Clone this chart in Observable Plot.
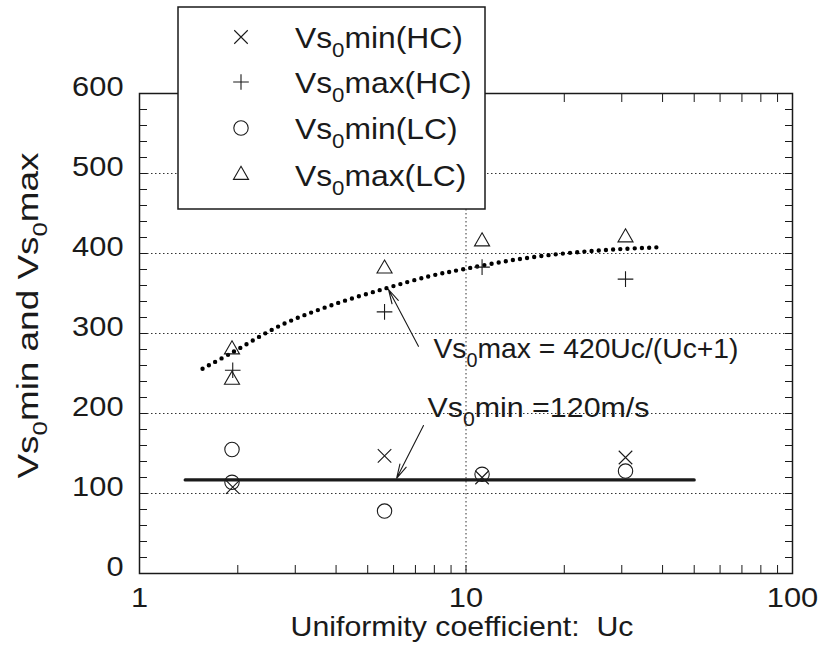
<!DOCTYPE html>
<html>
<head>
<meta charset="utf-8">
<script src="https://cdn.jsdelivr.net/npm/d3@7"></script>
<script src="https://cdn.jsdelivr.net/npm/@observablehq/plot@0.6"></script>
<style>
  html, body { margin: 0; padding: 0; background: #fff; }
  #wrap { position: relative; width: 822px; height: 659px; font-family: "Liberation Sans", Arial, Helvetica, sans-serif; }
  #legend { position: absolute; left: 177px; top: 6px; }
</style>
</head>
<body>
<div id="wrap"></div>
<script>
// ---- data ----
const seriesNames = ["Vs_0min(HC)", "Vs_0max(HC)", "Vs_0min(LC)", "Vs_0max(LC)"];
const seriesSymbols = ["times", "plus", "circle", "triangle2"];

const ucHC = [1.93, 5.63, 11.2, 30.8];
const vsMinHC = [108, 147, 120, 145];
const vsMaxHC = [254, 327, 383, 368];

const ucLC = [1.92, 1.92, 5.63, 11.2, 30.8];
const vsMinLC = [155, 114, 78, 124, 128];
const vsMaxLC = [280, 242, 381, 415, 420];

// fitted curve Vs0max = 420Uc/(Uc+1)
const curveUc = [1.56, 1.9, 2.7, 3.85, 5.63, 7.8, 10, 14, 19.9, 28.3, 40];
const curveVs = [256, 275, 310, 335, 356, 372, 381, 392, 400, 405, 408];

// Vs0min line
const minLineUc = [1.38, 50];
const minLineVs = 117;

// annotations
const annoLabels = ["Vs_0max = 420Uc/(Uc+1)", "Vs_0min =120m/s"];
const annoUc = [7.95, 7.62];
const annoVs = [280, 207];
const arrowFromUc = [7.15, 7.41];
const arrowFromVs = [284, 185];
const arrowToUc = [5.79, 6.13];
const arrowToVs = [355, 119];

// axes
const yTickLabels = [0, 100, 200, 300, 400, 500, 600];
const yGrid = [100, 200, 300, 400, 500];
const yMinor = d3.range(0, 601, 20);
const xTickLabels = [1, 10, 100];
const xGrid = [10];
const xMinor = [2, 3, 4, 5, 6, 7, 8, 9, 10, 20, 30, 40, 50, 60, 70, 80, 90];
const xTitle = "Uniformity coefficient:\u00a0 Uc";
const yTitle = "Vs_0min and Vs_0max";

// ---- tables ----
const hc = ucHC.map((u, i) => ({uc: u, min: vsMinHC[i], max: vsMaxHC[i]}));
const lc = ucLC.map((u, i) => ({uc: u, min: vsMinLC[i], max: vsMaxLC[i]}));
const curve = curveUc.map((u, i) => ({uc: u, vs: curveVs[i]}));
const minLine = minLineUc.map(u => ({uc: u, vs: minLineVs}));
const annos = annoLabels.map((t, i) => ({text: t, uc: annoUc[i], vs: annoVs[i]}));
const arrows = arrowFromUc.map((u, i) => ({x1: u, y1: arrowFromVs[i], x2: arrowToUc[i], y2: arrowToVs[i]}));

const ink = "#1a1a1a";
const FONT = "Liberation Sans, Arial, Helvetica, sans-serif";

const chart = Plot.plot({
  width: 822,
  height: 659,
  marginLeft: 139,
  marginRight: 30,
  marginTop: 93,
  marginBottom: 86,
  style: {fontFamily: FONT, background: "#fff", color: ink, overflow: "visible"},
  x: {type: "log", domain: [1, 100]},
  y: {domain: [0, 600]},
  marks: [
    Plot.ruleY(yGrid, {y: d => d, stroke: "#333", strokeWidth: 1, strokeDasharray: "1.5,2.5"}),
    Plot.ruleX(xGrid, {x: d => d, stroke: "#333", strokeWidth: 1, strokeDasharray: "1.5,2.5"}),
    Plot.axisY(yMinor, {anchor: "left", tickSize: -8, tickFormat: () => "", label: null, stroke: ink}),
    Plot.axisY(yMinor, {anchor: "right", tickSize: -8, tickFormat: () => "", label: null, stroke: ink}),
    Plot.axisX(xMinor, {anchor: "bottom", tickSize: -8, tickFormat: () => "", label: null, stroke: ink}),
    Plot.axisX(xMinor, {anchor: "top", tickSize: -8, tickFormat: () => "", label: null, stroke: ink}),
    Plot.axisY(yTickLabels, {anchor: "left", tickSize: 0, tickPadding: 16, dy: -6, fontSize: 28, label: null, fill: ink}),
    Plot.axisX(xTickLabels, {anchor: "bottom", tickSize: 0, tickPadding: 14, fontSize: 28, label: null, fill: ink, tickFormat: d => String(d)}),
    Plot.frame({stroke: ink, strokeWidth: 1.5}),
    Plot.line(minLine, {x: "uc", y: "vs", stroke: ink, strokeWidth: 3.2}),
    Plot.line(curve, {x: "uc", y: "vs", curve: "catmull-rom", stroke: "#000", strokeWidth: 4.4, strokeDasharray: "0,7.2", strokeLinecap: "round"}),
    Plot.dot(hc, {x: "uc", y: "min", symbol: "times", r: 6.2, stroke: ink, strokeWidth: 1.1, fill: "none"}),
    Plot.dot(hc, {x: "uc", y: "max", symbol: "plus", r: 5.1, stroke: ink, strokeWidth: 1.1, fill: "none"}),
    Plot.dot(lc, {x: "uc", y: "min", symbol: "circle", r: 7.2, stroke: ink, strokeWidth: 1.1, fill: "none"}),
    Plot.dot(lc, {x: "uc", y: "max", symbol: "triangle2", r: 7.2, stroke: ink, strokeWidth: 1.1, fill: "none"}),
    Plot.arrow(arrows, {x1: "x1", y1: "y1", x2: "x2", y2: "y2", stroke: ink, strokeWidth: 1.1, headAngle: 28, headLength: 20}),
    Plot.text(annos, {x: "uc", y: "vs", text: "text", textAnchor: "start", fontSize: 28, fill: ink}),
    Plot.text([xTitle], {frameAnchor: "bottom", textAnchor: "middle", lineAnchor: "top", dy: 43, dx: -4, fontSize: 28, fill: ink}),
    Plot.text([yTitle], {frameAnchor: "left", textAnchor: "middle", rotate: -90, dx: -111, dy: -18, fontSize: 29, fill: ink})
  ]
});

// subscript helper: "_0" -> subscript zero
function subscriptify(textEl) {
  const s = textEl.textContent;
  if (!s.includes("_0")) return;
  const fs = parseFloat(getComputedStyle(textEl).fontSize) || 28;
  const parts = s.split("_0");
  textEl.textContent = "";
  const NS = "http://www.w3.org/2000/svg";
  parts.forEach((p, i) => {
    if (i > 0) {
      const sub = document.createElementNS(NS, "tspan");
      sub.setAttribute("font-size", (fs * 0.7).toFixed(1) + "px");
      sub.setAttribute("dy", (fs * 0.32).toFixed(1));
      sub.textContent = "0";
      textEl.appendChild(sub);
    }
    const t = document.createElementNS(NS, "tspan");
    if (i > 0) t.setAttribute("dy", (-fs * 0.32).toFixed(1));
    t.textContent = p;
    textEl.appendChild(t);
  });
}
// widen the type a little, like the scanned Helvetica of the original
function widen(textEl, factor, target) {
  const len = textEl.getComputedTextLength();
  if (!len) return;
  const L = target != null ? target : len * factor;
  textEl.setAttribute("textLength", L.toFixed(1));
  textEl.setAttribute("lengthAdjust", "spacingAndGlyphs");
}

const wrap = document.getElementById("wrap");
wrap.appendChild(chart);
chart.querySelectorAll("text").forEach(subscriptify);
chart.querySelectorAll("text").forEach(t => {
  const s = t.textContent;
  if (s === "") return;
  if (s.startsWith("Uniformity")) widen(t, 1, 343);
  else if (s.startsWith("Vs0min and")) widen(t, 1, 326);
  else if (s.startsWith("Vs0max =")) widen(t, 1, 305);
  else if (s.startsWith("Vs0min =")) widen(t, 1, 222);
  else widen(t, 1.1);
});

// ---- legend (box drawn above the plot, as in the reference) ----
const LW = 308, LH = 203;
const rowY = [31, 76, 122, 169];
const symR = [6.2, 5.1, 7.2, 7.2];
const symMap = {times: d3.symbolTimes, plus: d3.symbolPlus, circle: d3.symbolCircle, triangle2: d3.symbolTriangle2};
const leg = d3.select(wrap).append("svg")
  .attr("id", "legend").attr("width", LW + 2).attr("height", LH + 2)
  .style("font-family", FONT);
leg.append("rect").attr("x", 1).attr("y", 1).attr("width", LW - 1).attr("height", LH - 1)
  .attr("fill", "#fff").attr("stroke", ink).attr("stroke-width", 1.5);
seriesNames.forEach((name, i) => {
  leg.append("path")
    .attr("transform", `translate(64,${rowY[i]})`)
    .attr("d", d3.symbol(symMap[seriesSymbols[i]], Math.PI * symR[i] * symR[i])())
    .attr("fill", "none").attr("stroke", ink).attr("stroke-width", 1.1);
  const t = leg.append("text")
    .attr("x", 118).attr("y", rowY[i]).attr("dy", "0.36em")
    .attr("font-size", "30px").attr("fill", ink)
    .text(name);
  subscriptify(t.node());
  widen(t.node(), 1.06);
});
</script>
</body>
</html>
